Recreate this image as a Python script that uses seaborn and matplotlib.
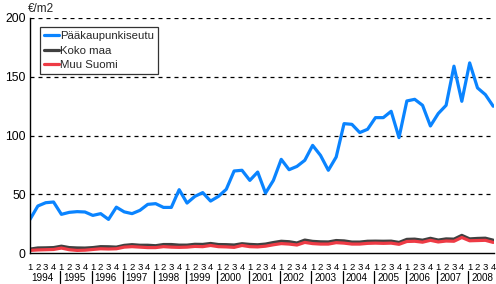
import numpy as np
import pandas as pd
import matplotlib
matplotlib.use("Agg")
import matplotlib.pyplot as plt
import matplotlib.transforms as mtransforms
import seaborn as sns

years = list(range(1994, 2009))
quarters = ["1", "2", "3", "4"]

paakaupunkiseutu = [
    28.6, 40.0, 42.8, 43.4,
    32.9, 34.6, 35.2, 34.9,
    32.0, 33.5, 28.6, 39.0,
    35.0, 33.5, 36.3, 41.4,
    42.0, 38.8, 38.8, 53.9,
    42.5, 48.2, 51.4, 44.2,
    48.2, 54.2, 69.8, 70.4,
    61.8, 68.9, 51.0, 61.8,
    79.7, 70.9, 73.7, 78.9,
    91.6, 83.1, 70.4, 81.7,
    110.1, 109.5, 102.5, 105.3,
    115.2, 115.2, 120.6, 98.2,
    129.4, 130.8, 125.7, 108.1,
    118.7, 125.7, 159.0, 129.1,
    161.8, 140.5, 134.8, 124.9,
]
koko_maa = [
    3.3, 4.3, 4.4, 4.6,
    5.8, 4.6, 4.3, 4.2,
    4.6, 5.4, 5.3, 5.0,
    6.5, 7.1, 6.6, 6.6,
    6.2, 7.2, 7.2, 6.7,
    6.7, 7.4, 7.3, 8.1,
    7.2, 7.1, 6.8, 7.9,
    7.3, 7.0, 7.6, 8.9,
    10.0, 9.6, 8.5, 11.0,
    9.9, 9.5, 9.4, 10.6,
    10.3, 9.3, 9.3, 10.0,
    10.1, 10.0, 10.1, 9.0,
    11.6, 11.8, 10.9, 12.5,
    11.0, 12.0, 11.8, 15.0,
    12.0, 12.4, 12.6, 10.9,
]
muu_suomi = [
    2.2, 2.6, 2.8, 3.0,
    4.2, 2.8, 2.2, 2.4,
    3.0, 3.6, 3.4, 3.6,
    5.0, 5.4, 5.0, 4.6,
    4.6, 5.4, 5.0, 4.8,
    5.0, 5.6, 5.4, 6.4,
    5.4, 5.2, 4.8, 6.4,
    5.4, 5.2, 5.8, 7.0,
    8.0, 7.6, 6.8, 9.0,
    8.0, 7.6, 7.6, 8.8,
    8.4, 7.6, 7.6, 8.2,
    8.4, 8.2, 8.4, 7.4,
    9.8, 10.0, 9.2, 10.8,
    9.4, 10.2, 10.0, 13.2,
    10.4, 10.6, 10.8, 9.0,
]

series_names = ["Pääkaupunkiseutu", "Koko maa", "Muu Suomi"]
colors = ["#0A84FF", "#404040", "#EE3B45"]

n = len(years) * len(quarters)
idx = np.arange(n)
df = pd.concat([
    pd.DataFrame({"t": idx, "v": vals, "s": name})
    for name, vals in zip(series_names, [paakaupunkiseutu, koko_maa, muu_suomi])
])

sns.set_theme(style="white")
plt.rcParams["font.family"] = ["Liberation Sans", "DejaVu Sans"]

fig = plt.figure(figsize=(4.96, 2.84), dpi=100)
W, H = 496, 284
ax = fig.add_axes([30 / W, 1 - 253 / H, (494 - 30) / W, (253 - 18) / H])

sns.lineplot(data=df, x="t", y="v", hue="s", palette=colors,
             hue_order=series_names, linewidth=2.3, ax=ax, legend=True)

ax.set_xlim(0, n - 1 + 0.1)
ax.set_ylim(0, 200)
ax.set_yticks([0, 50, 100, 150, 200])
ax.set_yticklabels(["0", "50", "100", "150", "200"], fontsize=8.7, color="black")
for y in [50, 100, 150, 200]:
    ax.axhline(y, color="black", lw=0.9, ls=(0, (3.2, 3.2)), zorder=0)

ax.set_xticks(idx)
ax.set_xticklabels(quarters * len(years), fontsize=6.8, color="black")
ax.tick_params(axis="x", length=0, pad=7.5)
ax.tick_params(axis="y", length=0, pad=3)
ax.set_xlabel("")
ax.set_ylabel("")

for side in ["top", "right"]:
    ax.spines[side].set_visible(False)
for side in ["left", "bottom"]:
    ax.spines[side].set_color("black")
    ax.spines[side].set_linewidth(1.0)

trans = mtransforms.blended_transform_factory(ax.transData, ax.transAxes)
for k, yr in enumerate(years):
    ax.text(4 * k + 1.6, -0.106, str(yr), transform=trans, ha="center",
            va="center", fontsize=7.1, color="black")
    if k > 0:
        ax.plot([4 * k - 0.15, 4 * k - 0.15], [-0.078, -0.128], transform=trans,
                color="black", lw=0.9, clip_on=False)

fig.text(28 / W, 1 - 8.5 / H, "€/m2", fontsize=8.5, ha="left", va="center")

leg = ax.legend(loc="upper left", bbox_to_anchor=(10 / 464, 1 - 9 / 235),
                fontsize=8.2, frameon=True, fancybox=False, handlelength=1.3,
                handletextpad=0.1, borderpad=0.35, labelspacing=0.4,
                borderaxespad=0)
leg.get_frame().set_edgecolor("black")
leg.get_frame().set_linewidth(0.9)
for line in leg.get_lines():
    line.set_linewidth(2.3)

fig.savefig("out.png", dpi=100)
